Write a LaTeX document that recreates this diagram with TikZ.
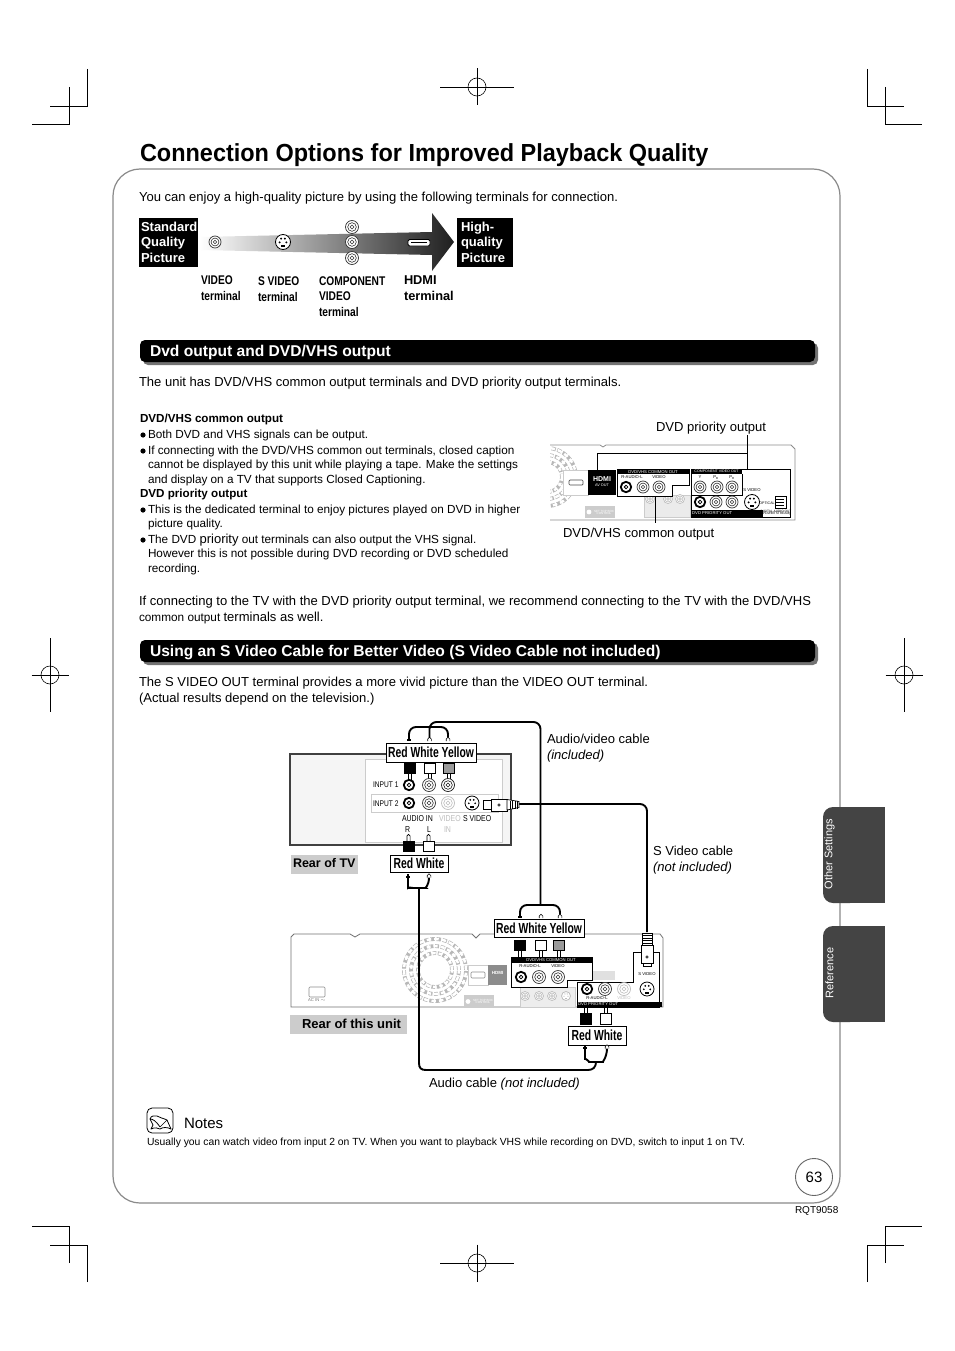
\documentclass[tikz,border=0pt]{standalone}
\usepackage{fontspec}
\setmainfont{Liberation Sans}
\newfontfamily\condf[FakeStretch=0.81]{Liberation Sans}
\newfontfamily\lblf[FakeStretch=0.71]{Liberation Sans}
\newfontfamily\titf[FakeStretch=0.95]{Liberation Sans}
\usetikzlibrary{calc}
\newcommand\fs[1]{\fontsize{#1}{#1}\selectfont}
\definecolor{tabgray}{HTML}{444444}
\definecolor{framegray}{HTML}{8A8A8A}
\definecolor{boxgray}{HTML}{CCCCCC}
\definecolor{plugyel}{HTML}{9A9A9A}
\definecolor{faint}{HTML}{BDBDBD}
\tikzset{
  x=1pt,y=-1pt,
  txt/.style={anchor=base west,inner sep=0pt,outer sep=0pt,text=black},
  crop/.style={line width=0.9pt,black},
  bar/.style={fill=black,rounded corners=5pt},
  barshadow/.style={fill=black!55,rounded corners=5pt},
  lbl/.style={draw=black,line width=1pt,fill=white,inner sep=0pt,outer sep=0pt,anchor=center,font=\lblf\bfseries\fs{14.6}},
  cable/.style={line width=1.9pt,black,rounded corners=7pt},
  leader/.style={line width=1pt,black},
  tag/.style={fill=black,anchor=north west,inner sep=0pt},
  gtag/.style={fill=boxgray},
  tiny/.style={anchor=center,inner sep=0pt,font=\fs{4.2}},
}
\newcommand\Tx[5]{\node[txt,font=#4] (#1) at (#2,#3) {#5};}
\newcommand\Tc[6]{\node[txt,font=#4,text=#5] (#1) at (#2,#3) {#6};}
\newcommand\Jack[4]{%
  \draw[#4,fill=white,line width=0.7pt] (#1,#2) circle (#3pt);
  \draw[#4,line width=0.6pt] (#1,#2) circle (0.66*#3pt);
  \draw[#4,line width=0.6pt] (#1,#2) circle (0.3*#3pt);}
\newcommand\JackB[3]{%
  \draw[black,fill=white,line width=1.8pt] (#1,#2) circle (#3pt);
  \draw[black,line width=0.8pt] (#1,#2) circle (0.35*#3pt);}
\newcommand\SJack[4]{%
  \draw[#4,fill=white,line width=0.8pt] (#1,#2) circle (#3pt);
  \fill[#4] (#1-0.45*#3,#2+0.05*#3) circle (0.14*#3pt) (#1+0.45*#3,#2+0.05*#3) circle (0.14*#3pt)
    (#1-0.25*#3,#2-0.45*#3) circle (0.14*#3pt) (#1+0.25*#3,#2-0.45*#3) circle (0.14*#3pt);
  \fill[#4] (#1-0.3*#3,#2+0.4*#3) rectangle (#1+0.3*#3,#2+0.65*#3);}
\newcommand\PlugDown[5]{%
  \draw[black,line width=0.7pt,fill=white] (#1-1.6,#3) rectangle (#1+1.6,#4);
  \draw[black,line width=0.7pt,fill=#5] (#1-5.5,#2) rectangle (#1+5.5,#3);}
\newcommand\PlugUp[5]{%
  \draw[black,line width=0.7pt,fill=white] (#1-1.6,#3) -- (#1-1.6,#4+1) arc (180:0:1.6pt) -- (#1+1.6,#3);
  \draw[black,line width=0.7pt,fill=#5] (#1-5.5,#3) rectangle (#1+5.5,#2);}
\newcommand\Tip[3]{\fill[#3] (#1-2.2,#2+3) -- (#1-2.2,#2+1) -- (#1+2.2,#2+1) -- (#1+2.2,#2+3) -- cycle;}
\newcommand\TipW[2]{\draw[black,line width=.6pt,fill=white] (#1-1.8,#2+3) -- (#1-1.8,#2+1) arc (180:0:1.8pt) -- (#1+1.8,#2+3);}
\newcommand\RegH[2]{%
  \draw[crop,line width=.6pt] (#1,#2) circle (9pt);
  \draw[crop,line width=.6pt] (#1-37,#2) -- (#1+37,#2) (#1,#2-18.5) -- (#1,#2+18.5);}
\newcommand\RegV[2]{%
  \draw[crop,line width=.6pt] (#1,#2) circle (9pt);
  \draw[crop,line width=.6pt] (#1-18.5,#2) -- (#1+18.5,#2) (#1,#2-37) -- (#1,#2+37);}
\begin{document}
\begin{tikzpicture}
\useasboundingbox (0,0) rectangle (954,1351);
\fill[white] (0,0) rectangle (954,1351);
% crop marks
\draw[crop] (87,69)--(87,106)--(50,106) (69,87)--(69,124)--(32,124);
\draw[crop] (867,69)--(867,106)--(904,106) (885,87)--(885,124)--(922,124);
\draw[crop] (87,1282)--(87,1245)--(50,1245) (69,1263)--(69,1226)--(32,1226);
\draw[crop] (867,1282)--(867,1245)--(904,1245) (885,1263)--(885,1226)--(922,1226);
\RegH{477}{87}\RegH{477}{1263}\RegV{50}{675}\RegV{904}{675}
% frame
\draw[framegray,line width=1.2pt,rounded corners=27pt] (113,169) rectangle (840,1203);
% title
\Tx{title}{140}{162}{\titf\bfseries\fs{24.7}}{Connection Options for Improved Playback Quality}
\Tx{intro}{139}{201}{\fs{13.03}}{You can enjoy a high-quality picture by using the following terminals for connection.}
% quality arrow
\shade[left color=white,right color=black!88] (200,237)--(432,232)--(432,213)--(454,242)--(432,271)--(432,255)--(200,250)--cycle;
\node[tag,minimum width=59pt,minimum height=49pt] (std) at (139,218) {};
\Tc{std1}{141}{231}{\bfseries\fs{13}}{white}{Standard}
\Tc{std2}{141}{246}{\bfseries\fs{13}}{white}{Quality}
\Tc{std3}{141}{262}{\bfseries\fs{13}}{white}{Picture}
\node[tag,minimum width=56pt,minimum height=49pt] (hi) at (457,218) {};
\Tc{hi1}{461}{231}{\bfseries\fs{13}}{white}{High-}
\Tc{hi2}{461}{246}{\bfseries\fs{13}}{white}{quality}
\Tc{hi3}{461}{262}{\bfseries\fs{13}}{white}{Picture}
\Jack{215}{242}{6}{black!80}
\SJack{283}{242}{7.5}{black}
\Jack{352}{227}{6.5}{black!80}\Jack{352}{242}{6.5}{black!80}\Jack{352}{258}{6.5}{black!80}
\draw[black,fill=white,line width=.8pt,rounded corners=1.5pt] (408,239.5) rectangle (430,246);
\draw[black,line width=.5pt] (411,242.5)--(427,242.5);
\Tx{v1}{201}{284}{\condf\bfseries\fs{12.6}}{VIDEO}
\Tx{v2}{201}{300}{\condf\bfseries\fs{12.6}}{terminal}
\Tx{s1}{258}{285}{\condf\bfseries\fs{12.6}}{S VIDEO}
\Tx{s2}{258}{301}{\condf\bfseries\fs{12.6}}{terminal}
\Tx{c1}{319}{285}{\condf\bfseries\fs{12.6}}{COMPONENT}
\Tx{c2}{319}{300}{\condf\bfseries\fs{12.6}}{VIDEO}
\Tx{c3}{319}{316}{\condf\bfseries\fs{12.6}}{terminal}
\Tx{h1}{404}{284}{\bfseries\fs{12.8}}{HDMI}
\Tx{h2}{404}{300}{\bfseries\fs{12.8}}{terminal}
% section bar 1
\fill[barshadow] (143,343) rectangle (818,365);
\fill[bar] (140,340) rectangle (815,362);
\Tc{sec1}{150}{356}{\bfseries\fs{15.6}}{white}{Dvd output and DVD/VHS output}
\Tx{p1}{139}{386}{\fs{13.03}}{The unit has DVD/VHS common output terminals and DVD priority output terminals.}
\Tx{b0}{140}{422}{\bfseries\fs{11.65}}{DVD/VHS common output}
\fill (143,435) circle (2.6pt) (143,451) circle (2.6pt) (143,510) circle (2.6pt) (143,540) circle (2.6pt);
\Tx{b1}{148}{438}{\fs{11.75}}{Both DVD and VHS signals can be output.}
\Tx{b2}{148}{454}{\fs{11.75}}{If connecting with the DVD/VHS common out terminals, closed caption}
\Tx{b3}{148}{468}{\fs{11.75}}{cannot be displayed by this unit while playing a tape. Make the settings}
\Tx{b4}{148}{483}{\fs{11.75}}{and display on a TV that supports Closed Captioning.}
\Tx{b5}{140}{497}{\bfseries\fs{11.65}}{DVD priority output}
\Tx{b6}{148}{513}{\fs{11.75}}{This is the dedicated terminal to enjoy pictures played on DVD in higher}
\Tx{b7}{148}{527}{\fs{11.75}}{picture quality.}
\Tx{b8}{148}{543}{\fs{11.75}}{The DVD {\fs{13}priority} out terminals can also output the VHS signal.}
\Tx{b9}{148}{557}{\fs{11.75}}{However this is not possible during DVD recording or DVD scheduled}
\Tx{b10}{148}{572}{\fs{11.75}}{recording.}
\Tx{p2}{139}{605}{\fs{13.03}}{If connecting to the TV with the DVD priority output terminal, we recommend connecting to the TV with the DVD/VHS}
\Tx{p3}{139}{621}{\fs{11.8}}{common output {\fs{13.03}terminals as well.}}
% mini rear panel
\begin{scope}
\clip (550,440) rectangle (800,525);
\foreach \r/\d in {15/3.5,22/4,29/4.5}{
  \draw[black!28,line width=3.8pt,dash pattern=on \d pt off 1.6pt] (547,477) circle (\r pt);
  \draw[white,line width=2.4pt,dash pattern=on \d pt off 3pt] (547,477) circle (\r pt);}
\end{scope}
\draw[black!45,line width=.8pt] (550,445)--(600,445)--(603,447)--(606,445)--(791,445)--(795,449)--(795,520)--(550,520);
\draw[boxgray,line width=.7pt,fill=boxgray!40] (644,495) rectangle (690,517);
\Jack{650}{499}{4.5}{faint}\Jack{668}{499}{4.5}{faint}\Jack{680}{499}{4.5}{faint}
\node[fill=boxgray,minimum width=30pt,minimum height=12pt,inner sep=0pt] (setbox) at (600,512) {};
\fill[white] (589,512) circle (2.4pt);
\node[tiny,text=white,font=\fs{3},align=center] (setboxt) at (604,512) {SET TOP BOX\\[-1pt]CONTROL};
\draw[fill=white,draw=boxgray,line width=.7pt] (563,470) rectangle (588,495);
\draw[black!70,fill=white,line width=.7pt,rounded corners=1pt] (569,480) rectangle (583,485);
\node[fill=black,minimum width=28pt,minimum height=25pt,anchor=north west,inner sep=0pt] (hdmiblk) at (588,470) {};
\node[anchor=center,inner sep=0pt,text=white,font=\bfseries\fs{7}] (hdmit) at (602,479) {HDMI};
\node[anchor=center,inner sep=0pt,text=white,font=\fs{3.8}] (avout) at (602,485) {AV OUT};
% common box
\draw[black,line width=.9pt,fill=white] (617,469)--(689,469)--(689,485)--(672,485)--(672,496)--(617,496)--cycle;
\fill[black] (617,469) rectangle (689,474);
\node[tiny,text=white] (cmn) at (653,471.7) {DVD/VHS COMMON OUT};
\node[tiny] (cmnr) at (632,477.5) {R-AUDIO-L};
\node[tiny] (cmnv) at (659,477.5) {VIDEO};
\JackB{626}{487}{5.2}\Jack{643}{487}{6}{black!80}\Jack{659}{487}{6}{black!80}
% priority box
\draw[black,line width=.9pt,fill=white] (691,469) rectangle (790,517);
\fill[black] (691,469) rectangle (742,474);
\fill[black] (691,510) rectangle (763,517);
\draw[black,line width=.9pt] (691,495)--(742,495)--(742,474);
\node[tiny,text=white,font=\fs{3.6}] (cmp) at (716.5,471.7) {COMPONENT VIDEO OUT};
\node[tiny,text=white,anchor=west] (pri) at (692,513.5) {DVD PRIORITY OUT};
\node[tiny] (cy) at (700,477.5) {Y};\node[tiny] (cb) at (716,477.5) {P\textsubscript{B}};\node[tiny] (cr) at (732,477.5) {P\textsubscript{R}};
\Jack{700}{487}{6}{black!80}\Jack{717}{487}{6}{black!80}\Jack{732}{487}{6}{black!80}
\JackB{700}{502}{5.2}\Jack{716}{502}{6}{black!80}\Jack{732}{502}{6}{black!80}
\node[tiny] (psv) at (752,490) {S VIDEO};
\SJack{752}{502}{7.5}{black}
\node[tiny,font=\fs{3.6}] (opt) at (767,503) {OPTICAL};
\draw[black,line width=.7pt,fill=white] (775,496) rectangle (786,508);
\draw[black,line width=.6pt] (775,499)--(784,499) (775,502)--(784,502) (775,505)--(784,505);
\node[tiny,font=\fs{3.2},align=center] (dig) at (776,513) {DIGITAL AUDIO OUT\\[-1pt](PCM/BITSTREAM)};
% leaders
\coordinate (dpTop) at (747,435);\coordinate (dpEnd) at (747,469);\coordinate (dpBr) at (747,453);\coordinate (dpHd) at (597,470);
\draw[leader] (dpTop)--(dpEnd);
\draw[leader] (dpBr)-|(dpHd);
\coordinate (dcA) at (655,496);\coordinate (dcB) at (655,523);
\draw[leader] (dcA)--(dcB);
\Tx{dpl}{656}{431}{\fs{13.03}}{DVD priority output}
\Tx{dcl}{563}{537}{\fs{13.03}}{DVD/VHS common output}
% section bar 2
\fill[barshadow] (143,643) rectangle (818,665);
\fill[bar] (140,640) rectangle (815,662);
\Tc{sec2}{150}{656}{\bfseries\fs{15.6}}{white}{Using an S Video Cable for Better Video (S Video Cable not included)}
\Tx{p4}{139}{686}{\fs{13.03}}{The S VIDEO OUT terminal provides a more vivid picture than the VIDEO OUT terminal.}
\Tx{p5}{139}{702}{\fs{13.03}}{(Actual results depend on the television.)}
% TV
\draw[black!75,line width=1.2pt,fill=black!4] (290,754) rectangle (511,845);
\draw[boxgray,line width=.9pt,fill=white] (365,759) rectangle (502,842);
\draw[boxgray,line width=.8pt] (371,794) rectangle (498,812);
\PlugDown{409.5}{763}{773}{780}{black}
\PlugDown{429.5}{763}{773}{780}{white}
\PlugDown{448.5}{763}{773}{780}{plugyel}
\JackB{409}{785}{5.2}\Jack{429}{785}{6.5}{black!80}\Jack{448}{785}{6.5}{black!90}
\JackB{409}{803}{5.2}\Jack{429}{803}{6.5}{black!80}\Jack{448}{803}{6.5}{faint}
\SJack{472}{803}{7}{black}
\Tx{in1}{373}{787}{\condf\fs{8.2}}{INPUT 1}
\Tx{in2}{373}{806}{\condf\fs{8.2}}{INPUT 2}
\Tx{aud}{402}{821}{\condf\fs{8.6}}{AUDIO IN}
\Tc{vid}{439}{821}{\condf\fs{8.6}}{faint}{VIDEO}
\Tx{svt}{463}{821}{\condf\fs{8.6}}{S VIDEO}
\Tx{rr}{405}{832}{\condf\fs{8.6}}{R}
\Tx{ll}{427}{832}{\condf\fs{8.6}}{L}
\Tc{inn}{444}{832}{\condf\fs{8.6}}{faint}{IN}
\PlugUp{408.5}{851}{841}{835}{black}
\PlugUp{428.5}{851}{841}{835}{white}
% labels
\node[lbl,minimum width=90pt,minimum height=19pt] (tvTri) at (431,752.5) {Red White Yellow};
\node[lbl,minimum width=58pt,minimum height=17pt] (tvDuo) at (419,863.5) {Red White};
\node[gtag,minimum width=67pt,minimum height=19pt,inner sep=0pt] (rtv) at (324.5,864.5) {};
\Tx{rtvt}{293}{867}{\bfseries\fs{12.5}}{Rear of TV}
\node[gtag,minimum width=117pt,minimum height=19pt,inner sep=0pt] (run) at (348.5,1024.5) {};
\Tx{runt}{302}{1028}{\bfseries\fs{13}}{Rear of this unit}
\Tx{avl}{547}{743}{\fs{13.03}}{Audio/video cable}
\Tx{avl2}{547}{759}{\itshape\fs{13.03}}{(included)}
\Tx{svl}{653}{855}{\fs{13.03}}{S Video cable}
\Tx{svl2}{653}{871}{\itshape\fs{13.03}}{(not included)}
\Tx{acl}{429}{1087}{\fs{13.03}}{Audio cable {\itshape (not included)}}
% unit
\begin{scope}
\clip (291,934) rectangle (663,1007);
\foreach \r/\d in {17/3.5,24/4,31/4.5}{
  \draw[black!28,line width=3.8pt,dash pattern=on \d pt off 1.6pt] (435,970) circle (\r pt);
  \draw[white,line width=2.4pt,dash pattern=on \d pt off 3pt] (435,970) circle (\r pt);}
\end{scope}
\draw[black!55,line width=.8pt] (291,1007)--(291,937)--(294,934)--(350,934)--(355,937)--(360,934)--(472,934)--(476,938)--(480,934)--(660,934)--(663,938)--(663,1007)--cycle;
\draw[black!45,line width=.6pt,rounded corners=1pt] (309,987) rectangle (325,997);
\node[tiny,text=black!55] (ac) at (317,1000) {AC IN $\sim$};
\draw[boxgray,fill=white,line width=.7pt] (468,965) rectangle (488,985);
\draw[black!45,fill=white,line width=.6pt,rounded corners=1pt] (471,972) rectangle (485,978);
\node[fill=black!45,minimum width=19pt,minimum height=20pt,anchor=north west,inner sep=0pt] (hdg) at (488,965) {};
\node[anchor=center,inner sep=0pt,text=white,font=\bfseries\fs{4.5}] (hdgt) at (497.5,973) {HDMI};
\node[fill=boxgray,minimum width=30pt,minimum height=13pt,inner sep=0pt] (stb) at (479,1001.5) {};
\fill[white] (468,1001.5) circle (2.4pt);
\node[tiny,text=white,font=\fs{3},align=center] (stbt) at (483,1001.5) {SET TOP BOX\\[-1pt]CONTROL};
\draw[boxgray,fill=boxgray!35,line width=.6pt] (520,987) rectangle (575,1007);
\Jack{525}{996}{4.5}{faint}\Jack{539}{996}{4.5}{faint}\Jack{552}{996}{4.5}{faint}\SJack{566}{996}{4.5}{faint}
\node[fill=boxgray!60,minimum width=25pt,minimum height=9pt,inner sep=0pt] (grb) at (602,975.5) {};
% priority region
\draw[black,line width=.9pt,fill=white] (633,952)--(659,952)--(659,1007)--(577,1007)--(577,982)--(633,982)--cycle;
\fill[black] (577,1002) rectangle (662,1007);
\node[tiny,text=white,anchor=west] (upri) at (578,1004.5) {DVD PRIORITY OUT};
\JackB{587}{989}{5.2}\Jack{605}{989}{6.5}{black!80}\Jack{624}{989}{6.5}{faint}
\SJack{647}{989}{7}{black}
\node[tiny] (usv) at (647,974) {S VIDEO};
\node[tiny] (uau) at (597,998.5) {R-AUDIO-L};
\node[tiny,text=faint] (uvd) at (624,998.5) {VIDEO};
% common region
\draw[black,line width=.9pt,fill=white] (511,957)--(592,957)--(592,980)--(567,980)--(567,987)--(511,987)--cycle;
\fill[black] (511,957) rectangle (592,963);
\node[tiny,text=white] (ucm) at (551,960) {DVD/VHS COMMON OUT};
\node[tiny] (ucr) at (530,966.5) {R-AUDIO-L};
\node[tiny] (ucv) at (558,966.5) {VIDEO};
\JackB{521}{977}{5.2}\Jack{539}{977}{6.5}{black!80}\Jack{558}{977}{6.5}{black!80}
\PlugDown{520}{940}{950}{957}{black}
\PlugDown{540.5}{940}{950}{957}{white}
\PlugDown{558.5}{940}{950}{957}{plugyel}
\draw[black,line width=.7pt,fill=white] (584,1007) rectangle (587,1013);
\draw[black,line width=.7pt,fill=white] (604,1007) rectangle (607,1013);
\draw[black,line width=.7pt,fill=black] (580,1013) rectangle (591,1024);
\draw[black,line width=.7pt,fill=white] (600,1013) rectangle (611,1024);
\node[lbl,minimum width=90pt,minimum height=18pt] (unTri) at (539,928) {Red White Yellow};
\node[lbl,minimum width=58pt,minimum height=19pt] (unDuo) at (597,1035.5) {Red White};
% coordinates for cable ends
\coordinate (avT1) at (409,739);\coordinate (avT2) at (429.5,739);\coordinate (avT3) at (448,739);
\coordinate (avB1) at (520,916);\coordinate (avB2) at (541,916);\coordinate (avB3) at (560,916);
\coordinate (auT1) at (408,877);\coordinate (auT2) at (429,877);
\coordinate (auB1) at (585,1048);\coordinate (auB2) at (607,1048);
\coordinate (sTV) at (519,804);\coordinate (sUn) at (647,932);
% AV cable
\draw[cable] (avT1)--(409,727)--(448,727)--(avT3);
\draw[cable] (avT2)--(429.5,722)--(540.5,722)--(540.5,905);
\draw[cable] (avB1)--(520,905)--(560,905)--(avB3);
\Tip{409}{738}{black}\TipW{429.5}{738}\TipW{448}{738}
\Tip{520}{915}{black}\TipW{541}{915}\TipW{560}{915}
% S video cable
\draw[cable] (sTV)--(647,804)--(sUn);
\draw[black,line width=.7pt,fill=white] (483,800.5) rectangle (491,809);
\draw[black,line width=.7pt,fill=white] (491,799) -- (507,799) -- (507,811) -- (491,811) -- cycle;
\draw[black,line width=.6pt] (499,805) circle (1.3pt);
\draw[black,line width=.7pt,fill=white] (507,799.5) -- (519,801.5) -- (519,807.5) -- (507,810) -- cycle;
\foreach \q in {510,512.5,515,517.5}{\draw[black,line width=.7pt] (\q,800.5)--(\q,808.5);}
\draw[black,line width=.7pt,fill=white] (642,933) rectangle (652,945);
\foreach \q in {935.5,938,940.5,943}{\draw[black,line width=.7pt] (642,\q)--(652,\q);}
\draw[black,line width=.7pt,fill=white] (641,945) rectangle (653,963);
\draw[black,line width=.7pt,fill=white] (643,963) rectangle (651,966);
\draw[black,line width=.6pt] (647,957) circle (1.3pt);
% audio cable
\draw[cable] (auT1)--(408,881) .. controls (408,887) and (414,888) .. (419,888) .. controls (424,888) and (429,887) .. (auT2);
\draw[black,line width=1.9pt] (419,888)--(419,1063) .. controls (419,1068) and (421,1070) .. (426,1070) -- (588,1070) .. controls (593,1070) and (596,1067) .. (596,1062);
\draw[cable] (auB1)--(585,1052) .. controls (585,1058) and (590,1062) .. (596,1062) .. controls (602,1062) and (607,1058) .. (auB2);
\Tip{408}{874.5}{black}\TipW{429}{874.5}
\Tip{585}{1045.5}{black}\TipW{607}{1045.5}
% tabs
\fill[tabgray,rounded corners=10pt] (823,807) -- (823,903) -- (860,903) -- (860,807) -- cycle;
\fill[tabgray] (850,807) rectangle (885,903);
\fill[tabgray,rounded corners=10pt] (823,926) -- (823,1022) -- (860,1022) -- (860,926) -- cycle;
\fill[tabgray] (850,926) rectangle (885,1022);
\node[rotate=90,text=white,font=\fs{11},inner sep=0pt,anchor=center] (tab1) at (829.5,854) {Other Settings};
\node[rotate=90,text=white,font=\fs{11},inner sep=0pt,anchor=center] (tab2) at (829.5,973) {Reference};
% notes
\draw[black,line width=.8pt,rounded corners=5pt] (147,1108) rectangle (173,1133);
\draw[black,line width=.8pt,line join=round] (160,1127) .. controls (156,1121) and (153,1119) .. (150,1119) -- (153,1125) -- (151,1129) .. controls (155,1127) and (158,1128) .. (160,1129) .. controls (163,1127) and (167,1127) .. (171,1129) -- (167,1120) .. controls (163,1118) and (160,1118) .. (157,1116) .. controls (155,1116) and (151,1115) .. (150,1119);
\draw[black,line width=.6pt] (160,1127)--(167,1120);
\Tx{notes}{184}{1128}{\fs{15}}{Notes}
\Tx{nt}{147}{1145}{\fs{10.35}}{Usually you can watch video from input 2 on TV. When you want to playback VHS while recording on DVD, switch to input 1 on TV.}
\node[draw=black!60,line width=.9pt,circle,minimum size=37pt,inner sep=0pt,fill=white,font=\fs{15}] (pg) at (814,1177) {63};
\Tx{rqt}{795}{1213}{\fs{10}}{RQT9058}
\end{tikzpicture}
\end{document}
